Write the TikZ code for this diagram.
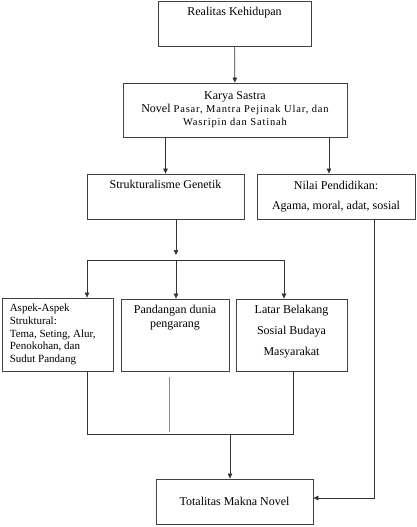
\documentclass[tikz,border=0pt]{standalone}
\usepackage{fontspec}
\setmainfont{Liberation Serif}
\usetikzlibrary{arrows.meta}
\usetikzlibrary{calc}
\usetikzlibrary{positioning}
\usepackage{xcolor}

\begin{document}
\begin{tikzpicture}[x=1pt,y=-1pt,
    box/.style={draw=black!75, line width=0.8pt, rectangle, inner sep=0pt},
    txt/.style={font=\fontsize{12}{14}\selectfont, inner sep=0pt, align=center},
    conn/.style={draw=black!80, line width=0.7pt},
    arr/.style={conn, -{Triangle[length=5pt,width=4.5pt]}}]

      \useasboundingbox (0,0) rectangle (416,527);

      % Boxes
      \node[box, minimum width=153pt, minimum height=45pt] (real) at (234.5,23.5) {};
      \node[txt, anchor=north] (realt) at ($(real.north)+(0,6)$) {Realitas Kehidupan};

      \node[box, minimum width=224pt, minimum height=54pt, txt] (karya) at (235,110)
        {Karya Sastra\\[-1pt]
         Novel {\fontsize{10.5}{14}\selectfont\addfontfeature{LetterSpace=8}Pasar, Mantra Pejinak Ular, dan}\\[-1pt]
         {\fontsize{10.5}{14}\selectfont\addfontfeature{LetterSpace=8}Wasripin dan Satinah}};

      \node[box, minimum width=157pt, minimum height=45pt] (struk) at (165.5,196.5) {};
      \node[txt, anchor=north] (strukt) at ($(struk.north)+(0,6)$) {Strukturalisme Genetik};

      \node[box, minimum width=158pt, minimum height=45pt, txt] (nilai) at (336,196.5)
        {Nilai Pendidikan:\\[6pt] Agama, moral, adat, sosial};

      \node[box, minimum width=111pt, minimum height=73pt] (aspek) at (57.5,334.5) {};
      \node[anchor=west, inner sep=0pt, align=left, font=\fontsize{11}{12.8}\selectfont] (aspekt)
        at ($(aspek.west)+(8,0)$)
        {Aspek-Aspek\\ Struktural:\\ Tema, Seting, Alur,\\ Penokohan, dan\\ Sudut Pandang};

      \node[box, minimum width=108pt, minimum height=72pt] (pandang) at (175,335) {};
      \node[txt, anchor=north] (pandangt) at ($(pandang.north)+(0,6)$) {Pandangan dunia\\ pengarang};

      \node[box, minimum width=111pt, minimum height=72pt] (latar) at (291.5,335) {};
      \node[txt, anchor=north, font=\fontsize{12}{21}\selectfont] (latart) at ($(latar.north)+(0,6)$)
        {Latar Belakang\\ Sosial Budaya\\ Masyarakat};

      \node[box, minimum width=157pt, minimum height=45pt, txt] (total) at (234.5,501.5)
        {Totalitas Makna Novel};

      % Connectors
      \coordinate (split) at (176,255);
      \coordinate (barL) at (87,260);
      \coordinate (barM) at (176,260);
      \coordinate (barR) at (284,260);
      \coordinate (joinL) at (87,434);
      \coordinate (joinM) at (230,434);
      \coordinate (joinR) at (293,434);
      \coordinate (grayT) at (169,377);
      \coordinate (grayB) at (169,432);
      \coordinate (side) at (374,498);

      \draw[arr] (real) -- (karya);
      \draw[arr] (karya.south -| struk.north) -- (struk);
      \draw[arr] ([xshift=-7pt]karya.south -| nilai.north) -- ([xshift=-7pt]nilai.north);
      \draw[arr] ([xshift=10.5pt]struk.south) -- (split);
      \draw[conn] (barL) -- (barR);
      \draw[arr] (barL) -- (barL |- aspek.north);
      \draw[arr] (barM) -- (barM |- pandang.north);
      \draw[arr] (barR) -- (barR |- latar.north);

      \draw[conn] (aspek.south -| joinL) -- (joinL) -- (joinR) -- (latar.south -| joinR);
      \draw[draw=black!45, line width=0.8pt] (grayT) -- (grayB);
      \draw[arr] (joinM) -- (joinM |- total.north);
      \draw[arr] (nilai.south -| side) -- (side) -- (side -| total.east);

\end{tikzpicture}
\end{document}
